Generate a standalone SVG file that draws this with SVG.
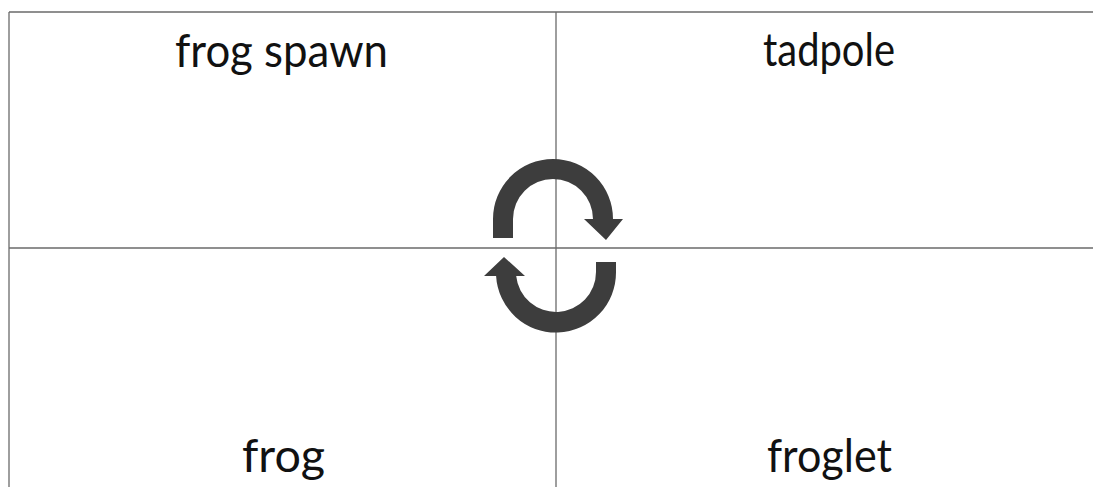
<svg xmlns="http://www.w3.org/2000/svg" width="1093" height="487" viewBox="0 0 1093 487">
<style>
.grid{stroke:#6a6a6a;stroke-width:1.3;fill:none}
.lbl{font-family:Lato,"Open Sans","Liberation Sans",sans-serif;font-weight:400;font-size:46px;fill:#111;text-anchor:middle}
.arrow{fill:#3d3d3d}
</style>
<rect width="1093" height="487" fill="#fff"/>
<g id="grid">
<line class="grid" x1="9" y1="12" x2="1093" y2="12"/>
<line class="grid" x1="9" y1="12" x2="9" y2="487"/>
<line class="grid" x1="9" y1="248" x2="1093" y2="248"/>
<line class="grid" x1="556" y1="12" x2="556" y2="487"/>
</g>
<g id="cell-frog-spawn"><text class="lbl" x="281.5" y="67" textLength="213" lengthAdjust="spacingAndGlyphs">frog spawn</text></g>
<g id="cell-tadpole"><text class="lbl" x="829" y="66" textLength="132" lengthAdjust="spacingAndGlyphs">tadpole</text></g>
<g id="cell-frog"><text class="lbl" x="283.5" y="472" textLength="83" lengthAdjust="spacingAndGlyphs">frog</text></g>
<g id="cell-froglet"><text class="lbl" x="829.5" y="472" textLength="125" lengthAdjust="spacingAndGlyphs">froglet</text></g>
<g id="connectors">
<path class="arrow" d="M 493 238 L 493 219 A 60 60 0 0 1 613 219 L 623 219 L 606 240 L 584 219 L 593 219 A 40 40 0 0 0 513 219 L 513 238 Z"/>
<path class="arrow" d="M 616 262 L 616 272 A 60 60 0 0 1 496.1 276 L 484 276 L 504 257 L 525 276 L 516.2 276 A 40 40 0 0 0 596 272 L 596 262 Z"/>
</g>
</svg>
